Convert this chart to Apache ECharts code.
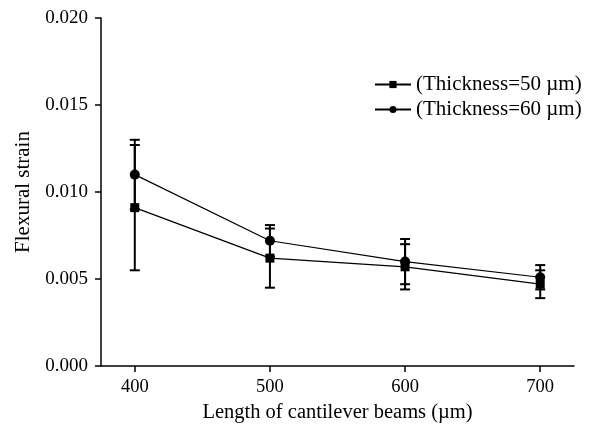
<!DOCTYPE html>
<html>
<head>
<meta charset="utf-8">
<script src="https://cdn.jsdelivr.net/npm/echarts@6/dist/echarts.min.js"></script>
<style>html,body{margin:0;padding:0;background:#fff;}#c{width:593px;height:429px;}</style>
</head>
<body>
<div id="c"></div>
<script>
var lengths = [400, 500, 600, 700];
var strain50 = [0.0091, 0.0062, 0.0057, 0.0047];
var err50 = [0.0036, 0.0017, 0.0013, 0.0008];
var strain60 = [0.0110, 0.0072, 0.0060, 0.0051];
var err60 = [0.0020, 0.0009, 0.0013, 0.0007];
var xTicks = [400, 500, 600, 700];
var name50 = '(Thickness=50 \u00b5m)';
var name60 = '(Thickness=60 \u00b5m)';

var FONT = 'Liberation Serif';

function errData(vals, errs) {
  return lengths.map(function (x, i) { return [x, vals[i] - errs[i], vals[i] + errs[i]]; });
}
function errRender(params, api) {
  var x = api.value(0);
  var lo = api.coord([x, api.value(1)]);
  var hi = api.coord([x, api.value(2)]);
  var hw = 5;
  var st = { stroke: '#000', lineWidth: 2 };
  return {
    type: 'group',
    children: [
      { type: 'line', shape: { x1: lo[0], y1: lo[1], x2: hi[0], y2: hi[1] }, style: st },
      { type: 'line', shape: { x1: lo[0] - hw, y1: lo[1], x2: lo[0] + hw, y2: lo[1] }, style: st },
      { type: 'line', shape: { x1: hi[0] - hw, y1: hi[1], x2: hi[0] + hw, y2: hi[1] }, style: st }
    ]
  };
}

var chart = echarts.init(document.getElementById('c'), null, { renderer: 'canvas' });
chart.setOption({
  animation: false,
  backgroundColor: '#fff',
  textStyle: { fontFamily: FONT, color: '#000' },
  grid: { left: 101, right: 19, top: 18, bottom: 63, containLabel: false, outerBoundsMode: 'none' },
  legend: {
    orient: 'vertical',
    left: 374,
    top: 74,
    padding: 0,
    itemWidth: 36,
    itemHeight: 9,
    itemGap: 4,
    textStyle: { fontFamily: FONT, fontSize: 21, color: '#000' },
    data: [name50, name60]
  },
  xAxis: {
    type: 'value',
    min: 375,
    max: 725,
    name: 'Length of cantilever beams (\u00b5m)',
    nameLocation: 'middle',
    nameGap: 35,
    nameTextStyle: { fontFamily: FONT, fontSize: 20.5, color: '#000' },
    axisLine: { lineStyle: { color: '#000', width: 1.5 } },
    axisTick: { show: true, length: 6, lineStyle: { color: '#000', width: 1.5 }, customValues: xTicks },
    axisLabel: { fontFamily: FONT, fontSize: 18.5, color: '#000', margin: 12, customValues: xTicks },
    splitLine: { show: false }
  },
  yAxis: {
    type: 'value',
    min: 0,
    max: 0.02,
    interval: 0.005,
    name: 'Flexural strain',
    nameLocation: 'middle',
    nameGap: 63,
    nameTextStyle: { fontFamily: FONT, fontSize: 21, color: '#000' },
    axisLine: { show: true, lineStyle: { color: '#000', width: 1.5 } },
    axisTick: { show: true, length: 6, lineStyle: { color: '#000', width: 1.5 } },
    axisLabel: { fontFamily: FONT, fontSize: 19, color: '#000', margin: 13,
      formatter: function (v) { return v.toFixed(3); } },
    splitLine: { show: false }
  },
  series: [
    {
      type: 'custom', renderItem: errRender, data: errData(strain50, err50),
      encode: { x: 0, y: [1, 2] }, z: 1, silent: true
    },
    {
      type: 'custom', renderItem: errRender, data: errData(strain60, err60),
      encode: { x: 0, y: [1, 2] }, z: 1, silent: true
    },
    {
      name: name50, type: 'line', z: 3,
      data: lengths.map(function (x, i) { return [x, strain50[i]]; }),
      symbol: 'rect', symbolSize: 9,
      itemStyle: { color: '#000' },
      lineStyle: { color: '#000', width: 1.2 }
    },
    {
      name: name60, type: 'line', z: 3,
      data: lengths.map(function (x, i) { return [x, strain60[i]]; }),
      symbol: 'circle', symbolSize: 10,
      itemStyle: { color: '#000' },
      lineStyle: { color: '#000', width: 1.2 }
    }
  ]
});
</script>
</body>
</html>
